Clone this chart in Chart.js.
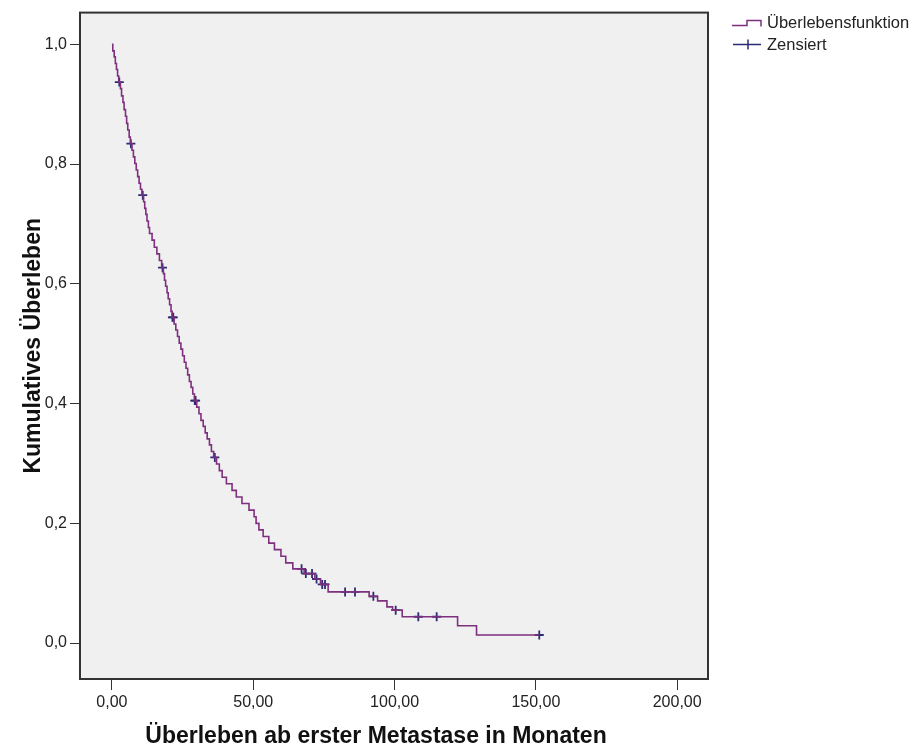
<!DOCTYPE html>
<html>
<head>
<meta charset="utf-8">
<script src="https://cdn.jsdelivr.net/npm/chart.js@4.4.1/dist/chart.umd.min.js"></script>
<style>
  html, body { margin: 0; padding: 0; background: #ffffff; }
</style>
</head>
<body>
<canvas id="kmChart" width="917" height="753"></canvas>
<script>
// Kaplan-Meier curve: month of each event and the survival right after it
const eventMonths = [
  0, 0.3, 0.8, 1.2, 1.6, 2.0, 2.4,
  3.0, 3.4, 3.9, 4.3, 4.8, 5.2, 5.6, 6.1, 6.5,
  7.1, 7.6, 8.1, 8.6, 9.1, 9.6, 10.1, 10.6,
  11.2, 11.6, 12.0, 12.4, 12.9, 13.3,
  14.2, 15.0, 15.9, 16.8, 17.6,
  18.2, 18.6, 19.0, 19.5, 19.9, 20.4, 20.9, 21.3,
  22.0, 22.6, 23.2, 23.8, 24.4, 25.0, 25.6, 26.2, 26.8, 27.4, 28.0, 28.6, 29.2,
  30.0, 30.8, 31.5,
  32.3, 33.0, 33.7, 34.5, 35.2, 36.0,
  37.0, 38.0, 39.0, 40.5, 42.5, 44.0, 46.0, 48.5,
  50.3, 51.0, 52.0, 53.5, 55.5, 57.5, 59.8, 61.5, 64.0,
  68.0, 71.8, 73.8, 76.5,
  91.0, 94.0, 97.3, 99.3, 102.7, 122.3, 129.0
];
const survival = [
  1.000, 0.989, 0.979, 0.968, 0.958, 0.947, 0.937,
  0.926, 0.914, 0.903, 0.891, 0.880, 0.868, 0.857, 0.845, 0.834,
  0.823, 0.812, 0.801, 0.790, 0.779, 0.768, 0.758, 0.748,
  0.737, 0.726, 0.716, 0.705, 0.694, 0.684,
  0.673, 0.661, 0.650, 0.639, 0.627,
  0.617, 0.606, 0.596, 0.585, 0.575, 0.565, 0.554, 0.544,
  0.533, 0.523, 0.512, 0.501, 0.491, 0.480, 0.469, 0.459, 0.448, 0.437, 0.427, 0.416, 0.405,
  0.394, 0.383, 0.372,
  0.362, 0.351, 0.341, 0.331, 0.320, 0.310,
  0.299, 0.288, 0.277, 0.266, 0.255, 0.244, 0.233, 0.222,
  0.211, 0.200, 0.189, 0.178, 0.167, 0.156, 0.145, 0.134, 0.124,
  0.116, 0.107, 0.098, 0.0855,
  0.078, 0.0705, 0.0605, 0.055, 0.044, 0.029, 0.0135
];
const lastFollowUp = 151.2;

// censored cases
const censorMonths = [
  2.6, 6.7, 10.9, 17.9, 21.4, 21.7, 29.3, 29.6, 36.4,
  67.1, 68.6, 70.8, 72.4, 74.4, 75.4,
  82.5, 86.0, 92.5, 100.4, 108.4, 114.9, 151.2
];
const censorSurvival = [
  0.937, 0.834, 0.748, 0.627, 0.544, 0.544, 0.405, 0.405, 0.310,
  0.124, 0.116, 0.116, 0.107, 0.098, 0.098,
  0.0855, 0.0855, 0.078, 0.055, 0.044, 0.044, 0.0135
];

const xTicks = [0, 50, 100, 150, 200];
const yTicks = [0, 0.2, 0.4, 0.6, 0.8, 1.0];

const xTitle = "Überleben ab erster Metastase in Monaten";
const yTitle = "Kumulatives Überleben";
const legendItems = ["Überlebensfunktion", "Zensiert"];

const lineColor = "#7e2f7e";
const censorColor = "#2b2b74";
const fontFamily = "'Liberation Sans', Arial, sans-serif";

const curvePoints = eventMonths.map((m, i) => ({ x: m, y: survival[i] }));
curvePoints.push({ x: lastFollowUp, y: survival[survival.length - 1] });
const censorPoints = censorMonths.map((m, i) => ({ x: m, y: censorSurvival[i] }));

const comma = (v, digits) => v.toFixed(digits).replace(".", ",");

// grey plot background and dark frame
const plotFrame = {
  id: "plotFrame",
  beforeDatasetsDraw(chart) {
    const { ctx, chartArea: a } = chart;
    ctx.save();
    ctx.fillStyle = "#f0f0f0";
    ctx.fillRect(a.left, a.top, a.right - a.left, a.bottom - a.top);
    ctx.restore();
  },
  afterDatasetsDraw(chart) {
    const { ctx, chartArea: a } = chart;
    ctx.save();
    ctx.strokeStyle = "#333333";
    ctx.lineWidth = 2;
    ctx.strokeRect(a.left, a.top, a.right - a.left, a.bottom - a.top);
    ctx.restore();
  }
};

// axis titles, placed a little off the plot centre like the SPSS output
const axisTitles = {
  id: "axisTitles",
  afterDraw(chart) {
    const { ctx, chartArea: a } = chart;
    ctx.save();
    ctx.fillStyle = "#111111";
    ctx.font = "bold 23px " + fontFamily;
    ctx.textAlign = "center";
    ctx.textBaseline = "middle";
    ctx.fillText(xTitle, 376, a.bottom + 58);
    ctx.translate(34, (a.top + a.bottom) / 2);
    ctx.rotate(-Math.PI / 2);
    ctx.fillText(yTitle, 0, 0);
    ctx.restore();
  }
};

// legend to the right of the plot: step glyph and censor glyph
const sideLegend = {
  id: "sideLegend",
  afterDraw(chart) {
    const { ctx, chartArea: a } = chart;
    const x0 = a.right + 24;
    const y0 = a.top + 10;
    ctx.save();
    ctx.lineWidth = 1.5;
    ctx.strokeStyle = lineColor;
    ctx.beginPath();
    ctx.moveTo(x0, y0 + 3);
    ctx.lineTo(x0 + 15, y0 + 3);
    ctx.lineTo(x0 + 15, y0 - 2);
    ctx.lineTo(x0 + 29, y0 - 2);
    ctx.lineTo(x0 + 29, y0 + 4);
    ctx.stroke();

    const y1 = y0 + 22;
    ctx.strokeStyle = censorColor;
    ctx.beginPath();
    ctx.moveTo(x0 + 1, y1);
    ctx.lineTo(x0 + 29, y1);
    ctx.moveTo(x0 + 16, y1 - 5);
    ctx.lineTo(x0 + 16, y1 + 5);
    ctx.stroke();

    ctx.fillStyle = "#222222";
    ctx.font = "16.5px " + fontFamily;
    ctx.textBaseline = "middle";
    ctx.textAlign = "left";
    ctx.fillText(legendItems[0], x0 + 35, y0 + 1);
    ctx.fillText(legendItems[1], x0 + 35, y1 + 1);
    ctx.restore();
  }
};

new Chart(document.getElementById("kmChart"), {
  type: "scatter",
  data: {
    datasets: [
      {
        label: legendItems[0],
        data: curvePoints,
        showLine: true,
        stepped: true,
        borderColor: lineColor,
        borderWidth: 1.6,
        pointRadius: 0,
        fill: false
      },
      {
        label: legendItems[1],
        data: censorPoints,
        showLine: false,
        pointStyle: "cross",
        pointRadius: 4.5,
        pointBorderWidth: 1.8,
        pointBorderColor: censorColor,
        pointBackgroundColor: censorColor
      }
    ]
  },
  options: {
    responsive: false,
    animation: false,
    layout: {
      padding: { left: 0, right: 209, top: 11, bottom: 0 }
    },
    plugins: {
      legend: { display: false },
      tooltip: { enabled: false }
    },
    scales: {
      x: {
        type: "linear",
        position: "bottom",
        min: -11.3,
        max: 210.9,
        afterBuildTicks: (axis) => {
          axis.ticks = xTicks.map((v) => ({ value: v }));
        },
        afterFit: (axis) => {
          axis.height = 74;
        },
        ticks: {
          color: "#222222",
          padding: 3,
          maxRotation: 0,
          font: { family: fontFamily, size: 16 },
          callback: (v) => comma(v, 2)
        },
        grid: {
          drawOnChartArea: false,
          drawTicks: true,
          tickLength: 11,
          color: "#333333"
        },
        border: { display: false }
      },
      y: {
        type: "linear",
        min: -0.06,
        max: 1.053,
        afterBuildTicks: (axis) => {
          axis.ticks = yTicks.map((v) => ({ value: v }));
        },
        afterFit: (axis) => {
          axis.width = 80;
        },
        ticks: {
          color: "#222222",
          padding: 3,
          font: { family: fontFamily, size: 16 },
          callback: (v) => comma(v, 1)
        },
        grid: {
          drawOnChartArea: false,
          drawTicks: true,
          tickLength: 10,
          color: "#333333"
        },
        border: { display: false }
      }
    }
  },
  plugins: [plotFrame, axisTitles, sideLegend]
});
</script>
</body>
</html>
